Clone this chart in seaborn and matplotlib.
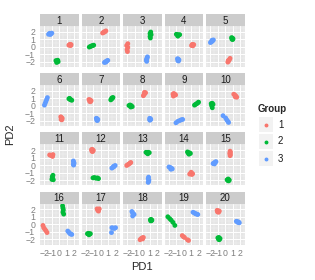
import numpy as np
import pandas as pd
import matplotlib
matplotlib.use("Agg")
import matplotlib.pyplot as plt
from matplotlib.patches import Rectangle
import seaborn as sns

# ---------------- data (per panel, 5 points per cluster) ----------------
panels = list(range(1, 21))
groups = ["1", "2", "3"]
palette = {"1": "#F8766D", "2": "#00BA38", "3": "#619CFF"}

g1_pd1 = [[1.3,1.45,1.6,1.55,1.4],[0.25,0.4,0.55,0.7,0.5],[-1.95,-2.1,-1.95,-2.05,-2.0],[1.05,1.2,1.35,1.25,1.15],
          [0.35,0.45,0.55,0.65,0.4],[0.2,0.3,0.4,0.25,0.35],[-1.6,-1.45,-1.3,-1.4,-1.5],[0.15,0.25,0.35,0.45,0.3],
          [-1.45,-1.35,-1.2,-1.1,-1.4],[1.15,1.3,1.45,1.55,1.35],[-1.3,-1.15,-1.0,-0.85,-0.9],[-1.25,-1.15,-1.0,-1.1,-1.2],
          [-2.1,-1.95,-1.8,-1.65,-1.55],[0.8,0.95,1.1,1.2,1.0],[0.65,0.7,0.6,0.7,0.65],[-2.2,-2.1,-1.95,-1.8,-1.65],
          [-0.5,-0.35,-0.2,-0.3,-0.4],[-0.3,-0.15,0.0,0.15,0.05],[-0.2,-0.05,0.1,0.5,0.65],[-1.1,-0.95,-0.8,-0.9,-1.05]]
g1_pd2 = [[0.2,0.32,0.28,0.15,0.22],[1.82,1.92,2.0,2.1,1.95],[0.4,0.15,-0.1,-0.4,-0.65],[0.15,0.25,0.28,0.12,0.3],
          [-2.05,-1.9,-1.75,-1.55,-1.85],[-1.45,-1.55,-1.65,-1.8,-1.85],[0.85,0.8,0.7,0.55,0.6],[1.35,1.5,1.65,1.75,1.8],
          [1.55,1.65,1.55,1.45,1.3],[1.55,1.45,1.3,1.15,1.2],[1.35,1.3,1.25,1.4,1.15],[2.05,2.1,1.95,1.8,1.85],
          [-0.05,0.05,0.15,0.25,0.35],[-1.2,-1.1,-1.25,-1.15,-0.95],[1.85,1.7,1.55,1.4,1.25],[-0.15,-0.45,-0.65,-0.85,-1.1],
          [2.05,1.95,2.05,1.75,1.85],[-2.05,-1.9,-1.8,-1.75,-1.95],[-1.5,-1.65,-1.75,-2.05,-2.15],[1.85,1.8,1.75,1.6,1.65]]

g2_pd1 = [[-0.45,-0.3,-0.15,-0.35,-0.2],[-1.55,-1.4,-1.25,-1.1,-0.95],[1.15,1.05,1.2,1.05,1.1],[-1.0,-0.85,-0.7,-0.55,-0.8],
          [0.85,0.95,1.05,0.9,1.0],[1.3,1.45,1.6,1.7,1.4],[1.35,1.45,1.55,1.65,1.5],[-1.8,-1.65,-1.5,-1.35,-1.55],
          [1.45,1.6,1.75,1.9,2.0],[-1.9,-1.75,-1.65,-1.85,-1.75],[-0.85,-0.95,-0.9,-1.0,-0.8],[-1.05,-0.85,-0.65,-0.45,-0.3],
          [0.5,0.65,0.8,0.95,0.75],[0.5,0.6,0.75,0.9,0.7],[0.25,0.4,0.55,0.45,0.35],[0.45,0.5,0.55,0.5,0.6],
          [-1.8,-1.65,-1.5,-1.4,-1.6],[1.1,1.2,1.3,1.15,1.25],[-2.15,-1.9,-1.7,-1.45,-1.2],[-1.0,-0.85,-0.7,-0.8,-0.9]]
g2_pd2 = [[-1.85,-1.9,-2.0,-2.1,-1.8],[-0.05,0.02,0.1,0.15,0.2],[1.95,1.75,1.6,1.35,1.15],[1.65,1.6,1.55,1.6,1.4],
          [1.2,1.15,1.05,1.0,0.95],[0.95,0.85,0.8,0.75,1.0],[0.8,0.9,1.0,1.12,1.05],[0.05,0.12,0.05,-0.1,-0.15],
          [0.1,0.2,0.3,0.4,0.5],[0.3,0.35,0.2,0.05,-0.25],[-1.35,-1.55,-1.75,-1.9,-1.95],[-1.7,-1.65,-1.75,-1.7,-1.8],
          [1.7,1.6,1.7,1.65,1.5],[1.75,1.6,1.65,1.55,1.45],[-1.95,-1.85,-2.0,-2.1,-2.05],[2.45,2.15,1.9,1.6,1.35],
          [-1.25,-1.2,-1.3,-1.25,-1.4],[0.6,0.65,0.55,0.45,0.5],[1.0,0.75,0.55,0.25,-0.15],[-1.8,-1.75,-1.9,-2.05,-2.0]]

g3_pd1 = [[-1.45,-1.3,-1.15,-1.0,-1.2],[0.5,0.65,0.8,0.95,0.7],[0.7,0.65,0.6,0.55,0.6],[-0.85,-0.75,-0.65,-0.8,-0.7],
          [-2.0,-1.85,-1.7,-1.6,-1.8],[-2.0,-1.9,-1.8,-1.7,-1.6],[-0.6,-0.5,-0.4,-0.45,-0.55],[1.0,1.1,1.15,1.05,1.0],
          [-1.05,-0.8,-0.55,-0.35,-0.15],[-0.3,0.05,0.2,0.35,0.45],[1.9,1.95,2.0,1.9,1.95],[1.5,1.65,1.8,1.95,1.75],
          [0.85,0.8,0.9,0.85,0.8],[-2.0,-1.85,-1.7,-1.55,-1.75],[-1.65,-1.5,-1.35,-1.25,-1.45],[1.15,1.3,1.4,1.55,1.7],
          [1.5,1.7,1.85,2.0,1.45],[-1.4,-1.3,-1.2,-1.1,-1.3],[1.25,1.45,1.6,1.75,1.9],[1.5,1.65,1.8,1.9,1.7]]
g3_pd2 = [[1.65,1.78,1.72,1.8,1.62],[-2.1,-2.0,-1.9,-1.82,-2.05],[-1.35,-1.5,-1.65,-1.8,-1.95],[-1.6,-1.65,-1.75,-1.85,-1.9],
          [0.55,0.65,0.78,0.9,0.85],[0.1,0.35,0.6,0.85,1.1],[-1.65,-1.7,-1.8,-1.95,-1.9],[-1.65,-1.7,-1.8,-1.9,-1.85],
          [-2.25,-2.05,-1.95,-1.85,-1.8],[-1.3,-1.6,-1.85,-2.05,-2.2],[0.55,0.4,0.25,0.1,0.0],[-0.4,-0.3,-0.2,-0.05,-0.15],
          [-1.6,-1.8,-2.0,-2.2,-2.3],[-0.25,-0.3,-0.4,-0.5,-0.55],[0.2,0.3,0.4,0.45,0.15],[-0.9,-1.05,-1.2,-1.3,-1.35],
          [-0.45,-0.5,-0.55,-0.45,-1.1],[1.7,1.5,1.4,1.3,1.1],[1.6,1.5,1.4,1.35,1.3],[0.4,0.35,0.3,0.2,0.25]]

tick_vals = [-2, -1, 0, 1, 2]
tick_labels = ["\u22122", "\u22121", "0", "1", "2"]

# ---------------- build table ----------------
rows = []
for g, xs_all, ys_all in [("1", g1_pd1, g1_pd2), ("2", g2_pd1, g2_pd2), ("3", g3_pd1, g3_pd2)]:
    for p, xs, ys in zip(panels, xs_all, ys_all):
        for x, y in zip(xs, ys):
            rows.append({"panel": p, "Group": g, "PD1": x, "PD2": y})
df = pd.DataFrame(rows)

# ---------------- figure ----------------
sns.set_style("white")
plt.rcParams["font.family"] = ["Liberation Sans", "DejaVu Sans"]
W, H = 315, 280
fig = plt.figure(figsize=(W / 100, H / 100), dpi=100)

def fr(x, y, w, h):
    return [x / W, 1 - (y + h) / H, w / W, h / H]

col_left = [40, 81.5, 123, 164.5, 206]
pw, ph, sh = 38.5, 41, 12
row_top = [14, 73.2, 132.4, 191.6]

for i, p in enumerate(panels):
    r, c = divmod(i, 5)
    x0, y0 = col_left[c], row_top[r]
    # strip
    sax = fig.add_axes(fr(x0, y0, pw, sh))
    sax.set_facecolor("#CCCCCC")
    sax.set_xticks([]); sax.set_yticks([])
    for s in sax.spines.values():
        s.set_visible(False)
    sax.text(0.5, 0.45, str(p), ha="center", va="center", fontsize=7, color="#1A1A1A",
             transform=sax.transAxes)
    # panel
    ax = fig.add_axes(fr(x0, y0 + sh, pw, ph))
    ax.set_facecolor("#E5E5E5")
    for s in ax.spines.values():
        s.set_visible(False)
    ax.set_xlim(-2.6, 2.6)
    ax.set_ylim(-2.7, 2.75)
    ax.set_xticks(tick_vals)
    ax.set_yticks(tick_vals)
    ax.set_xticks([-2.5, -1.5, -0.5, 0.5, 1.5, 2.5], minor=True)
    ax.set_yticks([-2.5, -1.5, -0.5, 0.5, 1.5, 2.5], minor=True)
    ax.grid(True, which="major", color="white", linewidth=0.7)
    ax.grid(True, which="minor", color="#F2F2F2", linewidth=0.35)
    ax.set_axisbelow(True)
    sub = df[df["panel"] == p]
    sns.scatterplot(data=sub, x="PD1", y="PD2", hue="Group", palette=palette,
                    hue_order=groups, legend=False, ax=ax, s=12, linewidth=0)
    ax.set_xlabel(""); ax.set_ylabel("")
    ax.tick_params(which="minor", length=0)
    ax.tick_params(which="major", length=2.5, width=0.6, color="#7F7F7F",
                   labelcolor="#7F7F7F", labelsize=6.3, pad=1)
    if c == 0:
        ax.set_yticklabels(tick_labels)
    else:
        ax.tick_params(axis="y", length=0, labelleft=False)
    if r == 3:
        ax.set_xticklabels(tick_labels)
    else:
        ax.tick_params(axis="x", length=0, labelbottom=False)

# axis titles
fig.text(142 / W, 1 - 267 / H, "PD1", ha="center", va="center", fontsize=8)
fig.text(10 / W, 1 - 134 / H, "PD2", ha="center", va="center", fontsize=8, rotation=90)

# legend
fig.text(258 / W, 1 - 109 / H, "Group", ha="left", va="center", fontsize=7, fontweight="bold")
key_y = [124.5, 141.5, 158.5]
for g, ky in zip(groups, key_y):
    fig.patches.append(Rectangle(((259) / W, 1 - (ky + 7.5) / H), 14 / W, 15 / H,
                                 transform=fig.transFigure, facecolor="#F2F2F2",
                                 edgecolor="none"))
    fig.add_artist(plt.Line2D([266 / W], [1 - ky / H], marker="o", markersize=1.8,
                              color=palette[g], linestyle="none", transform=fig.transFigure))
    fig.text(278 / W, 1 - ky / H, g, ha="left", va="center", fontsize=7, color="#1A1A1A")

fig.savefig("out.png", dpi=100)
